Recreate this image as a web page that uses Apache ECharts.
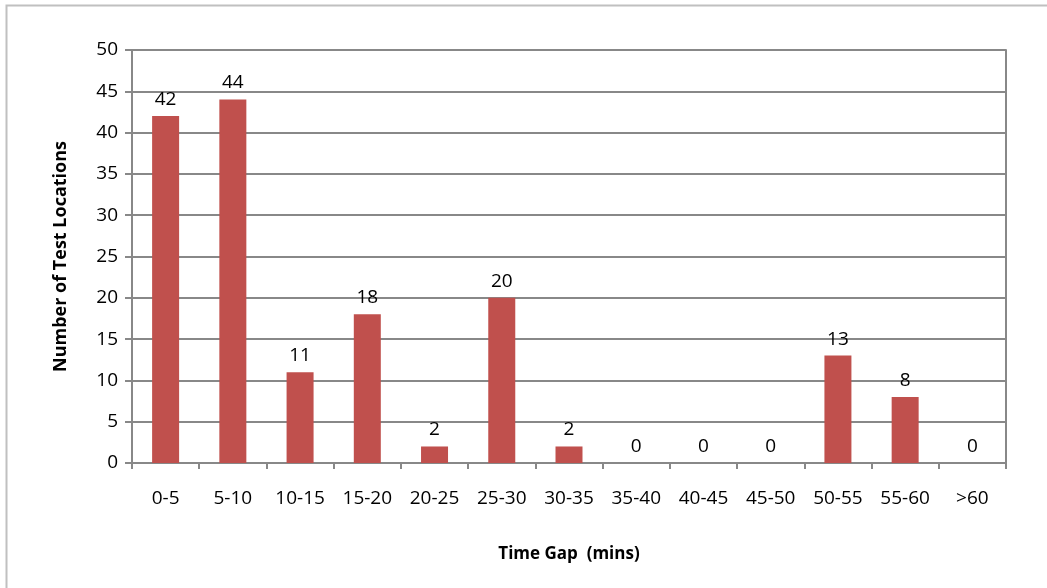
<!DOCTYPE html>
<html><head><meta charset="utf-8">
<script src="https://cdn.jsdelivr.net/npm/echarts@6/dist/echarts.min.js"></script>
<style>html,body{margin:0;padding:0;background:#fff}#c{width:1047px;height:588px}</style>
</head><body><div id="c"></div>
<script>
const categories = ['0-5','5-10','10-15','15-20','20-25','25-30','30-35','35-40','40-45','45-50','50-55','55-60','>60'];
const counts = [42,44,11,18,2,20,2,0,0,0,13,8,0];
const yTicks = {min:0, max:50, interval:5};

const chart = echarts.init(document.getElementById('c'));
const font = '"Open Sans", sans-serif';
chart.setOption({
  animation:false,
  graphic:[{type:'rect',shape:{x:6.5,y:5.5,width:1200,height:700},style:{fill:'none',stroke:'#c0c0c0',lineWidth:2},silent:true}],
  grid:{left:132,right:41,top:50,bottom:125},
  xAxis:{type:'category',data:categories,
    axisLine:{lineStyle:{color:'#888',width:2}},
    axisTick:{show:true,alignWithLabel:false,length:6,lineStyle:{color:'#888',width:2}},
    axisLabel:{color:'#000',fontSize:19,fontFamily:font,margin:26},
    name:'Time Gap  (mins)',nameLocation:'middle',nameGap:83,
    nameTextStyle:{color:'#000',fontSize:17,fontWeight:'bold',fontFamily:font}},
  yAxis:[{type:'value',min:yTicks.min,max:yTicks.max,interval:yTicks.interval,
    axisLine:{show:true,lineStyle:{color:'#888',width:2}},
    axisTick:{show:true,length:7,lineStyle:{color:'#888',width:2}},
    splitLine:{lineStyle:{color:'#888',width:2}},
    axisLabel:{color:'#000',fontSize:19,fontFamily:font,margin:14},
    name:'Number of Test Locations',nameLocation:'middle',nameGap:62,
    nameTextStyle:{color:'#000',fontSize:18,fontWeight:'bold',fontFamily:font}},
    {type:'value',position:'right',min:yTicks.min,max:yTicks.max,interval:yTicks.interval,
    axisLine:{show:true,lineStyle:{color:'#888',width:2}},
    axisTick:{show:false},axisLabel:{show:false},splitLine:{show:false}}],
  series:[{type:'bar',data:counts,barWidth:27,
    itemStyle:{color:'#C0504D'},
    label:{show:true,position:'top',distance:7,color:'#000',fontSize:19,fontFamily:font}}]
});
</script></body></html>
